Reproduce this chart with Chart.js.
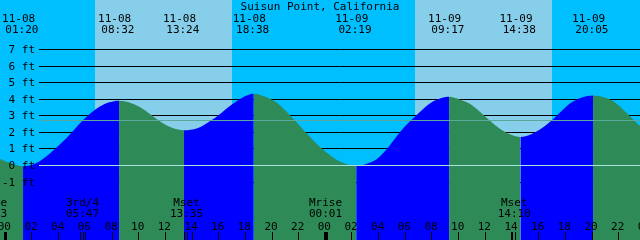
<!DOCTYPE html>
<html>
<head>
<meta charset="utf-8">
<script src="https://cdn.jsdelivr.net/npm/chart.js@4.4.0/dist/chart.umd.min.js"></script>
<style>
  html, body { margin: 0; padding: 0; background: #00bfff; }
  canvas { display: block; }
</style>
</head>
<body>
<canvas id="tide" width="640" height="240"></canvas>
<script>
// tide curve, hours after 11-08 00:00 and height in feet
var tideHours = [-0.41, 0.4, 1.33, 2.33, 3.34, 4.59, 5.84, 7.09, 7.8, 8.53,
  9.3, 10.09, 10.9, 11.59, 12.5, 13.40, 14.4, 15.34, 16.2, 16.99, 17.8, 18.63,
  19.5, 20.34, 21.59, 22.59, 23.59, 24.84, 25.6, 26.32,
  27.0, 27.84, 28.6, 29.34, 30.0, 30.71, 31.84, 32.6, 33.28,
  34.1, 34.84, 35.59, 36.3, 37.09, 37.9, 38.63,
  39.4, 40.09, 40.99, 41.7, 42.34, 43.2, 44.08,
  44.9, 45.59, 46.2, 46.84, 47.6];
var tideFeet = [0.36, 0.10, -0.08, 0.12, 0.70, 1.63, 2.72, 3.53, 3.79, 3.89,
  3.78, 3.50, 3.05, 2.64, 2.25, 2.10, 2.22, 2.64, 3.15, 3.65, 4.08, 4.30,
  4.12, 3.77, 2.80, 1.92, 1.10, 0.32, 0.05, -0.05,
  0.05, 0.35, 0.95, 1.72, 2.35, 2.92, 3.72, 4.02, 4.12,
  3.95, 3.70, 3.22, 2.70, 2.19, 1.84, 1.70,
  1.85, 2.14, 2.70, 3.25, 3.72, 4.07, 4.20,
  4.10, 3.85, 3.45, 2.95, 2.35];

// high / low labels along the top
var extremeDates = ['11-08', '11-08', '11-08', '11-08', '11-09', '11-09', '11-09', '11-09'];
var extremeTimes = ['01:20', '08:32', '13:24', '18:38', '02:19', '09:17', '14:38', '20:05'];

// moon events along the bottom
var moonDates = ['11-07', '11-08', '11-08', '11-09', '11-09'];
var moonNames = ['Mrise', '3rd/4', 'Mset', 'Mrise', 'Mset'];
var moonTimes = ['22:53', '05:47', '13:35', '00:01', '14:10'];

// daylight
var sunDates = ['11-08', '11-09'];
var sunrises = ['06:44', '06:45'];
var sunsets = ['17:00', '16:59'];

var ftTicks = [-1, 0, 1, 2, 3, 4, 5, 6, 7];
var hourTicks = ['00', '02', '04', '06', '08', '10', '12', '14', '16', '18', '20', '22'];
var meanLevel = 2.7;

var NIGHT = '#00bfff', DAY = '#87ceeb', RISE = '#0000ff', FALL = '#2e8b57';
var FONT = '11px "DejaVu Sans Mono", monospace';

function toHours(date, hhmm) {
  var day = parseInt(date.slice(3), 10) - 8;
  var p = hhmm.split(':');
  return day * 24 + parseInt(p[0], 10) + parseInt(p[1], 10) / 60;
}

function hline(ctx, y, x0, x1, color) {
  ctx.strokeStyle = color;
  ctx.lineWidth = 1;
  ctx.beginPath();
  ctx.moveTo(x0, Math.round(y) + 0.5);
  ctx.lineTo(x1, Math.round(y) + 0.5);
  ctx.stroke();
}

function vline(ctx, x, y0, y1, w) {
  ctx.fillStyle = '#000';
  ctx.fillRect(Math.round(x - w / 2), y0, w, y1 - y0);
}

var tideDecor = {
  id: 'tideDecor',
  beforeDatasetsDraw: function (chart) {
    var ctx = chart.ctx, xs = chart.scales.x, ys = chart.scales.y;
    ctx.save();
    ctx.fillStyle = NIGHT;
    ctx.fillRect(0, 0, 640, 240);
    ctx.fillStyle = DAY;
    for (var i = 0; i < sunDates.length; i++) {
      var a = Math.round(xs.getPixelForValue(toHours(sunDates[i], sunrises[i])));
      var b = Math.round(xs.getPixelForValue(toHours(sunDates[i], sunsets[i])));
      ctx.fillRect(a, 0, b - a, 240);
    }
    ftTicks.forEach(function (v) {
      hline(ctx, ys.getPixelForValue(v), 39, 640, '#000');
    });
    ctx.restore();
  },
  afterDatasetsDraw: function (chart) {
    var ctx = chart.ctx, xs = chart.scales.x, ys = chart.scales.y;
    ctx.save();
    hline(ctx, ys.getPixelForValue(0), 39, 640, '#a8e4dc');
    hline(ctx, ys.getPixelForValue(meanLevel), 39, 640, '#5aa89c');

    ctx.font = FONT;
    ctx.fillStyle = '#000';
    ctx.textBaseline = 'alphabetic';

    ctx.textAlign = 'right';
    ftTicks.forEach(function (v) {
      ctx.fillText(v + ' ft', 35, Math.round(ys.getPixelForValue(v)) + 4);
    });

    ctx.textAlign = 'center';
    ctx.fillText('Suisun Point, California', 320, 10);

    for (var i = 0; i < extremeTimes.length; i++) {
      var x = xs.getPixelForValue(toHours(extremeDates[i], extremeTimes[i])) - 4.5;
      ctx.fillText(extremeDates[i], x, 22);
      ctx.fillText(' ' + extremeTimes[i], x, 33);
    }

    for (var j = 0; j < moonTimes.length; j++) {
      var mx = xs.getPixelForValue(toHours(moonDates[j], moonTimes[j]));
      ctx.fillText(moonNames[j], mx, 206);
      ctx.fillText(moonTimes[j], mx, 217);
      vline(ctx, mx - 1.5, 232, 240, 1);
      vline(ctx, mx + 1.5, 232, 240, 1);
    }

    for (var d = 0; d < 3; d++) {
      hourTicks.forEach(function (lbl, k) {
        var hx = xs.getPixelForValue(d * 24 + k * 2);
        if (hx > 660) return;
        ctx.fillText(lbl, hx - 1, 230);
        vline(ctx, hx, 232, 240, k === 0 ? 3 : 1);
      });
    }
    ctx.restore();
  }
};

new Chart(document.getElementById('tide'), {
  type: 'line',
  data: {
    datasets: [{
      data: tideHours.map(function (h, i) { return { x: h, y: tideFeet[i] }; }),
      fill: 'start',
      borderWidth: 0,
      borderColor: 'rgba(0,0,0,0)',
      backgroundColor: FALL,
      pointRadius: 0,
      cubicInterpolationMode: 'monotone',
      segment: {
        backgroundColor: function (c) { return c.p1.parsed.y > c.p0.parsed.y ? RISE : FALL; }
      }
    }]
  },
  options: {
    responsive: false,
    animation: false,
    devicePixelRatio: 1,
    layout: { padding: 0 },
    plugins: { legend: { display: false }, tooltip: { enabled: false } },
    scales: {
      x: { type: 'linear', min: -0.4, max: 47.6, display: false },
      y: { min: -4.53, max: 9.97, display: false }
    }
  },
  plugins: [tideDecor]
});
</script>
</body>
</html>
